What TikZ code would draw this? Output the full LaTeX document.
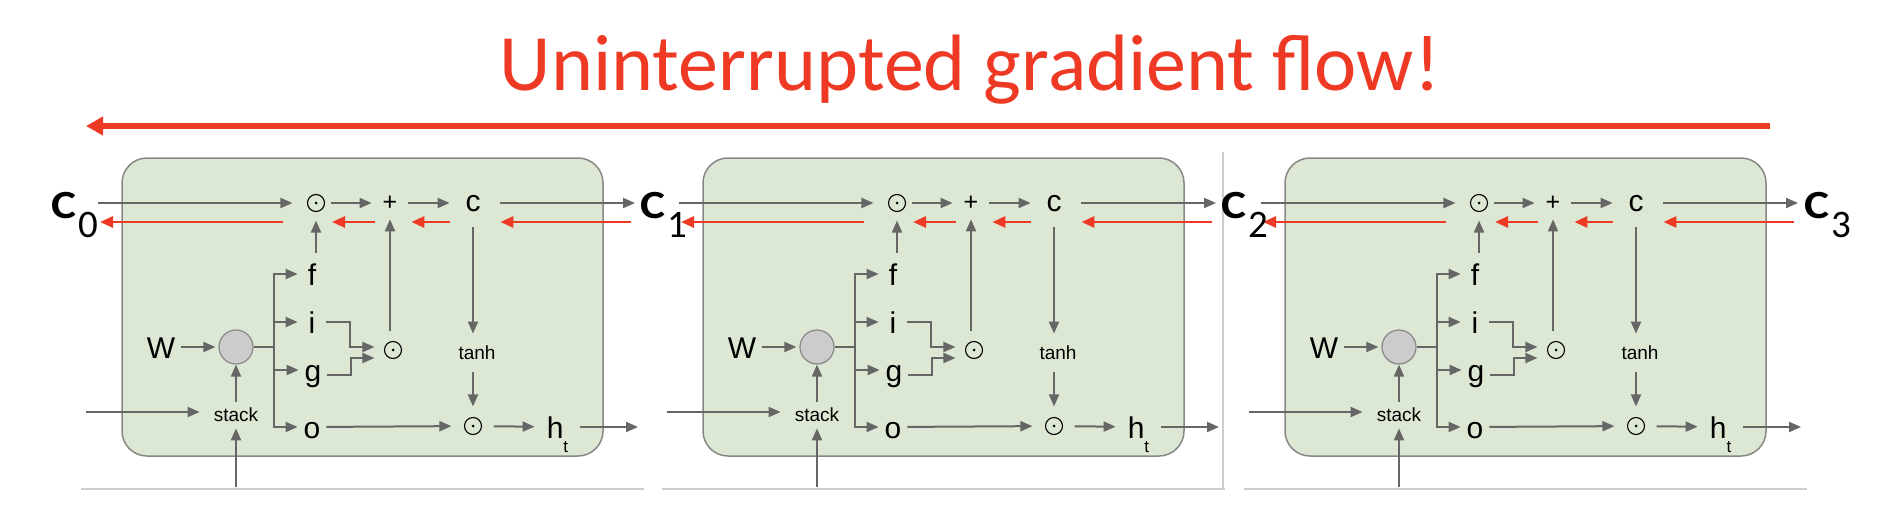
\documentclass[tikz,border=0pt]{standalone}
\usepackage{fontspec}
\usetikzlibrary{arrows.meta,calc}
\newfontfamily\lab{Liberation Sans}
\newfontfamily\calfont{Carlito}
\definecolor{agray}{RGB}{102,102,102}
\definecolor{ared}{RGB}{238,58,36}
\definecolor{cellfill}{RGB}{220,232,211}
\definecolor{celldraw}{RGB}{135,135,135}
\definecolor{cirfill}{RGB}{204,204,204}
\definecolor{rulegray}{RGB}{205,205,205}
\newcommand{\clabel}[1]{{\fontsize{20}{20}\selectfont\bfseries\scalebox{1.18}[1]{C}}\hspace{1pt}\raisebox{-9.5pt}{#1}}
\begin{document}
\begin{tikzpicture}[x=0.5pt,y=-0.5pt,
 ga/.style={draw=agray,line width=1pt,-{Triangle[length=6pt,width=5pt]}},
 gl/.style={draw=agray,line width=1pt},
 ra/.style={draw=ared,line width=1.4pt,-{Triangle[length=6.5pt,width=5.5pt]}},
 odot/.style={circle,draw=black,line width=0.55pt,minimum size=8.5pt,inner sep=0pt,
   path picture={\fill[black] (path picture bounding box.center) circle (0.75pt);}},
 letr/.style={font=\fontsize{15}{15}\lab,text height=11pt,text depth=0pt,inner sep=0pt,minimum width=14pt},
 smalltxt/.style={font=\fontsize{9.5}{10}\lab,inner sep=0pt},
 cellbox/.style={draw=celldraw,fill=cellfill,line width=0.75pt,rounded corners=12.5pt,
   minimum width=240.5pt,minimum height=149pt,inner sep=0pt},
 clab/.style={font=\fontsize{19.5}{20}\calfont,inner sep=0pt,anchor=base west},
 rulebase/.style={draw=rulegray,line width=0.75pt},
]
\useasboundingbox (0,0) rectangle (1878,530);

% title and global gradient arrow
\node[font=\fontsize{40}{40}\calfont, text=ared, anchor=base, inner sep=0pt] (title) at (970,90) {Uninterrupted gradient flow!};
\coordinate (rl) at (1770,126);
\coordinate (rlend) at (86,126);
\draw[draw=ared,line width=2.75pt,-{Triangle[length=8.5pt,width=9pt]}] (rl) -- (rlend);

\foreach \k/\dx in {0/0,1/581,2/1163}{
\begin{scope}[shift={(\dx,0)}]
 \node[cellbox] (box\k) at (362.5,307) {};
 \coordinate (bl\k) at (81,489);
 \coordinate (br\k) at (644,489);
 \draw[rulebase] (bl\k) -- (br\k);

 % nodes
 \node[odot] (dT\k) at (316,203) {};
 \node[font=\fontsize{12.5}{12.5}\lab, inner sep=0pt, minimum width=18pt, minimum height=16pt] (pl\k) at (390,203) {+};
 \node[font=\fontsize{15}{15}\lab, text height=8pt, text depth=0pt, inner sep=0pt, minimum width=23pt, minimum height=24pt] (cc\k) at (473,203) {c};
 \node[letr] (f\k) at (312,274) {f};
 \node[letr] (i\k) at (312,322) {i};
 \node[letr] (g\k) at (313,370) {g};
 \node[letr] (o\k) at (312,427) {o};
 \node[letr] (W\k) at (161,347) {W};
 \node[circle, draw=celldraw, fill=cirfill, minimum size=17pt, inner sep=0pt, line width=0.6pt] (cir\k) at (236,347) {};
 \node[odot] (dM\k) at (393,350) {};
 \node[smalltxt, minimum height=19pt] (th\k) at (477,353) {tanh};
 \node[odot] (dB\k) at (473,426) {};
 \node[letr, minimum width=22.5pt] (ht\k) at (557.5,427) {h\raisebox{-7pt}{\fontsize{8.5}{9}\selectfont t}};
 \node[smalltxt, minimum width=36pt, minimum height=13pt] (st\k) at (236,415) {stack};

 % free ends
 \coordinate (in\k) at (98,203);
 \coordinate (out\k) at (635,203);
 \coordinate (rin\k) at (631,222);
 \coordinate (rend\k) at (100,222);
 \coordinate (bp\k) at (274,347);
 \coordinate (lin\k) at (86,412);
 \coordinate (bin\k) at (236,487);
 \coordinate (hout\k) at (638,427);

 % cell state path (forward)
 \draw[ga, shorten >=7.25pt] (in\k) -- (dT\k);
 \draw[ga, shorten <=3pt] (dT\k) -- (pl\k);
 \draw[ga] (pl\k) -- (cc\k);
 \draw[ga, shorten <=2pt] (cc\k) -- (out\k);

 % gradient path (backward)
 \draw[ra, shorten >=2pt] (rin\k) -- (cc\k.east |- rin\k);
 \draw[ra, shorten >=1.5pt] (cc\k.west |- rin\k) -- (pl\k.east |- rin\k);
 \draw[ra, shorten <=-1.5pt, shorten >=3.5pt] (pl\k.west |- rin\k) -- (dT\k.east |- rin\k);
 \draw[ra, shorten <=11.75pt] (dT\k.west |- rin\k) -- (rend\k);

 % gates
 \draw[ga, shorten <=5pt, shorten >=4.25pt] (dT\k |- f\k.north) -- (dT\k);
 \draw[ga, shorten <=4.75pt] (pl\k |- dM\k.north) -- (pl\k);
 \draw[ga] (cc\k) -- (cc\k |- th\k.north);
 \draw[ga, shorten >=5.25pt] (dB\k |- th\k.south) -- (dB\k);
 \draw[ga, shorten >=6.25pt] (o\k) -- (dB\k);
 \draw[ga, shorten <=5.75pt] (dB\k) -- (ht\k);
 \draw[ga] (ht\k) -- (hout\k);

 \draw[ga, shorten <=2.5pt, shorten >=1.5pt] (W\k) -- (cir\k);
 \draw[gl] (cir\k) -- (bp\k);
 \draw[ga] (bp\k) |- (f\k);
 \draw[ga] (bp\k) |- (i\k);
 \draw[ga] (bp\k) |- (g\k);
 \draw[ga] (bp\k) |- (o\k);
 \draw[ga, shorten >=4.75pt] (i\k.east) -- ++(24,0) |- ($(dM\k.west)+(0,-3)$);
 \draw[ga, shorten >=4.75pt] ($(g\k.east)+(0,5)$) -- ++(24,0) |- ($(dM\k.west)+(0,8)$);

 \draw[ga] (st\k) -- (cir\k);
 \draw[ga] (lin\k) -- (lin\k -| st\k.west);
 \draw[ga] (bin\k) -- (st\k);
\end{scope}}

% separator
\coordinate (sepT) at (1223,152);
\coordinate (sepB) at (1223,488);
\draw[rulebase] (sepT) -- (sepB);

% cell state labels
\node[clab] (C0) at (51,218) {\clabel{0}};
\node[clab] (C1) at (640,218) {\clabel{1}};
\node[clab] (C2) at (1221,218) {\clabel{2}};
\node[clab] (C3) at (1804,218) {\clabel{3}};
\end{tikzpicture}
\end{document}
